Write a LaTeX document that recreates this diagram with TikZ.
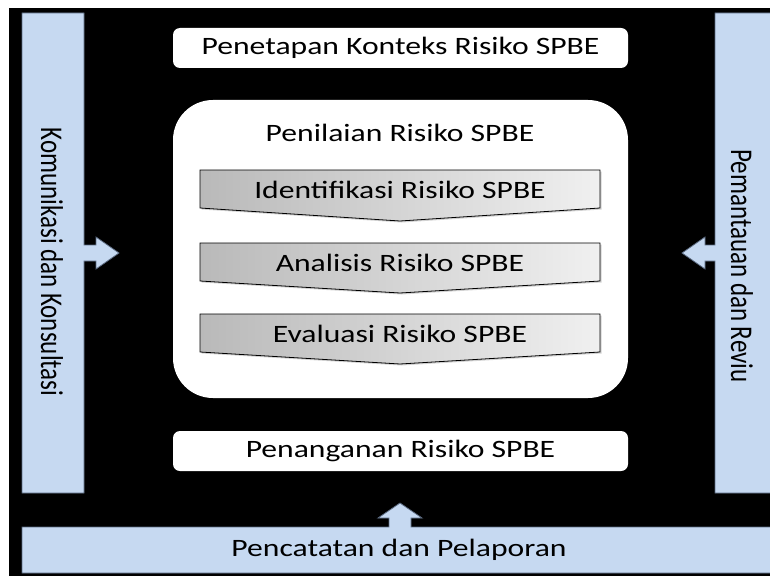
\documentclass[tikz,border=0pt]{standalone}
\usepackage{fontspec}
\setmainfont{Carlito}[FakeStretch=1.265]
\newfontfamily\vertfont{Carlito}
\usepackage{xcolor}
\usepackage{tikz}
\usetikzlibrary{shadows}
\definecolor{myblue}{RGB}{198,217,241}
\definecolor{myborder}{RGB}{90,105,128}
\definecolor{mygraydark}{RGB}{185,185,185}
\definecolor{mygraylight}{RGB}{240,240,240}
\tikzset{
  panel/.style={fill=myblue, draw=myborder, line width=0.8pt, line join=miter},
  whitebox/.style={rectangle, fill=white, rounded corners=7pt, minimum width=455pt, minimum height=40pt},
  chevron/.style={draw=black, line width=0.8pt, left color=mygraydark, right color=mygraylight, drop shadow={shadow xshift=1.5pt, shadow yshift=-1.5pt, opacity=0.35}},
  textlabel/.style={font=\fontsize{25}{30}\selectfont, text=black, inner sep=0pt},
  vlabel/.style={font=\vertfont\fontsize{25}{30}\selectfont, text=black, inner sep=0pt, rotate=-90, yscale=1.265}
}

\begin{document}
\begin{tikzpicture}[x=1pt, y=-1pt]
  \useasboundingbox (0,0) rectangle (770,575);
  \clip (0,0) rectangle (770,575);
  \fill[black] (9,8) rectangle (775,580);

  % Left column (arrow to the right)
  \draw[panel] (22,13) -- (84,13) -- (84,245) -- (96,245) -- (96,237) -- (119,253) -- (96,269) -- (96,261) -- (84,261) -- (84,493) -- (22,493) -- cycle;
  \node[vlabel] (komunikasi) at (52,262) {Komunikasi dan Konsultasi};

  % Right column (arrow to the left)
  \draw[panel] (775,13) -- (715,13) -- (715,245) -- (705,245) -- (705,237) -- (682,253) -- (705,269) -- (705,261) -- (715,261) -- (715,493) -- (775,493);
  \node[vlabel] (pemantauan) at (742,266) {Pemantauan dan Reviu};

  % Bottom bar (arrow up)
  \draw[panel] (775,527) -- (411,527) -- (411,518) -- (422,518) -- (400,503) -- (378,518) -- (389,518) -- (389,527) -- (22,527) -- (22,573) -- (775,573);
  \node[textlabel] (pencatatan) at (399,550) {Pencatatan dan Pelaporan};

  % Top and bottom boxes
  \node[whitebox, textlabel] (konteks) at (400.5,48) {Penetapan Konteks Risiko SPBE};
  \node[whitebox, textlabel] (penanganan) at (400.5,451) {Penanganan Risiko SPBE};

  % Assessment block
  \node[whitebox, rounded corners=40pt, minimum height=298pt] (penilaian) at (400.5,249) {};
  \node[textlabel] (penilaiantitle) at (400,133) {Penilaian Risiko SPBE};

  % Step 1 (y=170)
  \draw[chevron] (200,170) -- (600,170) -- (600,208) -- (400,221) -- (200,208) -- cycle;
  \node[textlabel] (identifikasi) at (400,190) {Identifikasi Risiko SPBE};

  % Step 2 (y=243)
  \draw[chevron] (200,243) -- (600,243) -- (600,281) -- (400,293) -- (200,281) -- cycle;
  \node[textlabel] (analisis) at (400,263) {Analisis Risiko SPBE};

  % Step 3 (y=314)
  \draw[chevron] (200,314) -- (600,314) -- (600,352) -- (400,364) -- (200,352) -- cycle;
  \node[textlabel] (evaluasi) at (400,334) {Evaluasi Risiko SPBE};
\end{tikzpicture}
\end{document}
